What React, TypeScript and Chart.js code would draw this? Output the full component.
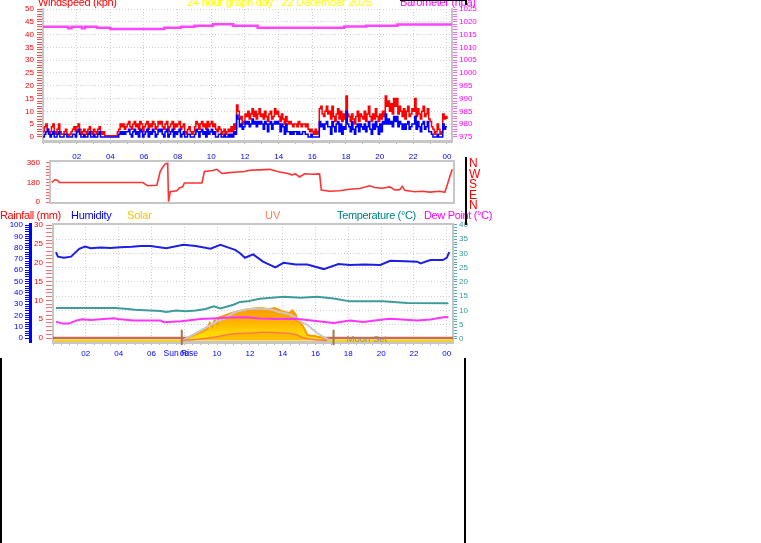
import React, { useEffect, useRef } from "react";
import { Chart, registerables } from "chart.js";

Chart.register(...registerables);

// ---------------- data ----------------
// wind speed, 5-minute samples from 00:00 to 24:00 (kph)
const windGust = [
  2, 4, 5, 3, 1, 2, 4, 5, 2, 1, 3, 5,
  2, 1, 1, 2, 3, 1, 0.5, 1, 2, 3, 4, 2,
  4, 5, 3, 1, 2, 3, 2, 1, 3, 4, 2, 1,
  3, 2, 1, 3, 4, 2, 1, 2, 0.5, 0.5, 0.5, 0.5,
  0.5, 0.5, 0.5, 0.5, 0.5, 2, 3, 5, 4, 5, 3, 4,
  5, 6, 4, 3, 5, 6, 4, 5, 3, 6, 5, 2,
  4, 5, 6, 3, 5, 4, 6, 5, 3, 4, 6, 5,
  6, 4, 3, 5, 6, 2, 4, 5, 6, 3, 5, 4,
  5, 6, 3, 4, 5, 2, 1, 3, 4, 2, 1, 2,
  4, 6, 5, 3, 5, 6, 4, 5, 3, 6, 4, 5,
  6, 4, 5, 3, 2, 4, 3, 1, 2, 3, 1, 2,
  3, 2, 4, 2, 5, 3, 12.5, 10, 7, 8, 5, 6,
  9, 8, 10, 7, 9, 11, 8, 10, 7, 9, 11, 8,
  9, 7, 10, 8, 6, 9, 10, 7, 8, 11, 9, 10,
  8, 6, 9, 7, 5, 8, 6, 5, 6, 5, 4, 5,
  5, 4, 6, 5, 4, 5, 5, 4, 5, 3, 2, 3,
  2, 1, 3, 1, 2, 11, 12, 9, 8, 10, 12, 9,
  10, 7, 12, 8, 6, 9, 11, 7, 10, 6, 9, 7,
  16, 9, 8, 6, 9, 7, 5, 8, 10, 6, 9, 8,
  7, 10, 6, 9, 12, 8, 6, 9, 7, 11, 8, 6,
  9, 7, 10, 8, 16, 12, 14, 10, 13, 9, 15, 12,
  15, 9, 12, 10, 8, 11, 7, 10, 12, 8, 9, 11,
  10, 15, 8, 11, 9, 7, 10, 12, 8, 9, 11, 7,
  6, 4, 3, 1, 2, 5, 3, 1, 2, 9, 7, 8,
  7,
];
const windAvg = [
  0, 1, 2, 3, 1, 0, 1, 2, 0, 0, 1, 2,
  0, 0, 0, 1, 1, 0, 0, 0, 0, 1, 1, 0,
  2, 3, 1, 0, 0, 1, 0, 0, 1, 2, 0, 0,
  1, 0, 0, 1, 2, 0, 0, 0, 0, 0, 0, 0,
  0, 0, 0, 0, 0, 0, 1, 2, 1, 2, 1, 2,
  2, 3, 1, 0, 2, 3, 1, 2, 0, 3, 2, 0,
  1, 2, 3, 0, 2, 1, 3, 2, 0, 1, 3, 2,
  3, 1, 0, 2, 3, 0, 1, 2, 3, 0, 2, 1,
  2, 3, 0, 1, 2, 0, 0, 1, 1, 0, 0, 0,
  1, 3, 2, 0, 2, 3, 1, 2, 0, 3, 1, 2,
  3, 1, 2, 0, 0, 1, 1, 0, 0, 1, 0, 0,
  1, 0, 1, 0, 2, 1, 8.5, 7, 4, 5, 3, 4,
  6, 5, 6, 4, 5, 7, 5, 6, 4, 6, 5, 6,
  5, 3, 6, 5, 2, 5, 6, 3, 5, 6, 5, 6,
  5, 2, 5, 4, 1, 5, 2, 2, 1, 2, 1, 2,
  2, 1, 2, 1, 1, 2, 2, 1, 1, 0, 0, 1,
  0, 0, 0, 0, 0, 6, 4, 5, 3, 5, 6, 4,
  4, 1, 6, 4, 2, 5, 6, 2, 5, 1, 4, 3,
  10, 5, 4, 2, 6, 3, 1, 4, 5, 2, 5, 4,
  3, 5, 2, 4, 6, 3, 1, 5, 3, 6, 4, 1,
  5, 2, 6, 5, 9, 5, 7, 5, 6, 4, 8, 6,
  8, 4, 6, 5, 3, 5, 3, 5, 6, 3, 4, 5,
  5, 8, 3, 6, 4, 2, 5, 6, 3, 4, 6, 2,
  2, 1, 0, 0, 0, 1, 0, 0, 0, 5, 3, 4,
  4,
];

const baroHours = [0, 1.5, 1.7, 2.3, 2.5, 3.2, 4.0, 7.2, 8.2, 9.0, 10.1, 11.3, 12.75, 17.9, 19.2, 21.05, 24.3];
const baroValues = [1018.1, 1017.5, 1018.1, 1017.5, 1018.1, 1017.7, 1017.2, 1017.7, 1018.1, 1018.5, 1019.0, 1018.5, 1017.7, 1018.2, 1018.5, 1018.9, 1018.9];

const dirHours = [0, 0.2, 0.35, 0.45, 2.5, 5.45, 5.75, 6.3, 6.5, 6.65, 6.8, 6.95, 7.0, 7.1, 7.5, 7.65, 7.85, 7.95, 9.0, 9.15, 9.65, 9.9, 10.2, 10.65, 11.1, 11.55, 11.85, 12.45, 13.05, 13.65, 14.1, 14.4, 14.6, 14.85, 15.15, 15.6, 16.05, 16.15, 16.65, 17.25, 17.85, 18.45, 19.05, 19.35, 19.8, 20.25, 20.55, 20.85, 21.0, 21.15, 21.75, 22.2, 22.65, 23.25, 23.55, 23.7, 23.9, 24.0];
const dirValues = [180, 205, 200, 180, 180, 180, 150, 155, 280, 320, 350, 355, 5, 95, 105, 130, 140, 175, 175, 280, 290, 300, 262, 270, 276, 280, 292, 295, 300, 275, 265, 250, 258, 230, 260, 255, 258, 110, 100, 105, 118, 125, 150, 135, 128, 140, 112, 115, 145, 108, 95, 100, 92, 100, 90, 160, 260, 300];

const humHours = [0.18, 0.3, 0.67, 1.1, 1.6, 1.95, 2.3, 2.9, 3.5, 4.1, 4.8, 5.35, 5.95, 6.9, 7.95, 8.7, 9.6, 10.2, 10.7, 11.1, 11.4, 11.7, 12.2, 12.8, 13.55, 14.05, 14.8, 15.5, 16.5, 17.4, 18.1, 19.0, 19.95, 20.55, 21.45, 22.2, 22.4, 23.0, 23.75, 24.0, 24.15];
const humValues = [76, 72, 71, 72, 79, 81, 79.5, 80, 79.6, 80.3, 80.8, 81.5, 81.5, 79.5, 82.5, 81.5, 79, 82.5, 80, 78, 75, 71, 74, 67.6, 62.5, 66.5, 65, 65, 61, 65.5, 64.6, 65, 64.6, 68.4, 68, 67.5, 66, 69, 69, 71, 76];

const tempHours = [0.18, 3.8, 4.4, 5.0, 6.55, 6.9, 7.5, 8.1, 8.7, 9.3, 9.8, 10.2, 11.0, 11.4, 11.85, 12.6, 14.05, 15.1, 16.1, 17.1, 18.1, 20.1, 21.6, 24.1];
const tempValues = [10.9, 10.9, 10.6, 10.3, 9.8, 9.5, 10, 9.7, 10, 10.5, 11.5, 10.7, 12, 13, 13.2, 14.1, 14.8, 14.5, 14.8, 14.2, 13.2, 13.2, 12.6, 12.5];

const dewHours = [0.18, 0.6, 0.95, 1.5, 1.8, 2.3, 3.7, 3.95, 4.9, 6.55, 6.75, 7.8, 9.0, 10.0, 10.8, 11.75, 12.65, 13.7, 14.8, 16.3, 17.1, 18.1, 18.9, 20.1, 20.55, 22.2, 23.0, 23.9, 24.1];
const dewValues = [6.1, 5.4, 5.4, 6.6, 6.9, 6.7, 7.3, 7.0, 6.5, 6.5, 5.9, 6.2, 7.0, 7.3, 7.5, 7.6, 7.2, 7.0, 7.1, 6.1, 5.6, 6.5, 6.0, 6.8, 7.1, 6.5, 6.8, 7.7, 7.6];

const solarHours = [0, 7.9, 8.5, 9.1, 9.4, 9.55, 9.7, 9.85, 10.0, 10.05, 10.4, 10.9, 11.5, 12.0, 12.6, 13.2, 13.5, 14.0, 14.4, 14.6, 14.8, 14.9, 15.1, 15.3, 15.5, 15.9, 16.4, 16.7, 24.4];
const solarValues = [0, 0, 50, 90, 115, 175, 135, 205, 165, 225, 245, 275, 300, 315, 325, 315, 325, 290, 275, 300, 255, 195, 175, 125, 55, 45, 30, 0, 0];

const solarMaxHours = [7.9, 8.5, 9.0, 9.5, 10.0, 10.5, 11.0, 11.5, 12.0, 12.65, 13.3, 13.7, 14.5, 15.25, 15.5, 16.1, 16.9];
const solarMaxValues = [0, 55, 100, 145, 190, 225, 275, 300, 315, 318, 310, 288, 255, 175, 155, 75, 0];

const uvHours = [7.9, 9.0, 10.0, 11.0, 12.0, 13.0, 14.0, 14.8, 15.2, 16.0, 16.7];
const uvValues = [0, 0.2, 0.5, 0.9, 1.0, 1.1, 1.0, 0.8, 0.4, 0.1, 0];

const rainHours = [0, 24.4];
const rainValues = [0, 0];

const sunRiseHour = 7.85;
const moonSetHour = 17.1;

const compassLetters = ["N", "W", "S", "E", "N"];

// ---------------- helpers ----------------
const FONT = '"Liberation Sans", Arial, Helvetica, sans-serif';
const GRID = "#CFCFCF";
const FRAME = "#C6C6C6";
const CLEAR = "rgba(0,0,0,0)";
const tickFont = { family: FONT, size: 8 };

const pts = (xs: number[], ys: number[]) => xs.map((x, i) => ({ x, y: ys[i] }));
const range = (a: number, b: number, s: number) => {
  const r: number[] = [];
  for (let i = 0; a + i * s <= b + 1e-9; i++) r.push(+(a + i * s).toFixed(3));
  return r;
};
const isMult = (v: number, m: number) => Math.abs(v / m - Math.round(v / m)) < 1e-6;
const hourLabel = (v: number) => (v > 0 && isMult(v, 2) ? String(Math.round(v) % 24).padStart(2, "0") : "");

function hourAxis(min: number, max: number, step: number, height: number, padding: number, showLabels = true, showGrid = true) {
  return {
    type: "linear",
    position: "bottom",
    min,
    max,
    afterBuildTicks: (s: any) => {
      s.ticks = range(0, 24, step).map((value) => ({ value }));
    },
    afterFit: (s: any) => {
      s.height = height;
    },
    ticks: {
      display: showLabels,
      autoSkip: false,
      maxRotation: 0,
      minRotation: 0,
      color: "#0000FF",
      font: tickFont,
      padding,
      callback: (v: any) => hourLabel(Number(v)),
    },
    grid: {
      display: showGrid,
      drawTicks: showGrid,
      color: (c: any) => (c.tick && c.tick.value > 0 && isMult(c.tick.value, 2) ? GRID : CLEAR),
      tickColor: "#B4B4B4",
      tickLength: 3,
      lineWidth: 1,
    },
    border: { color: FRAME, width: 3, dash: [1, 2] },
  };
}

function valueAxis(o: any) {
  return {
    type: "linear",
    position: o.position,
    weight: o.weight || 0,
    min: o.min,
    max: o.max,
    afterBuildTicks: (s: any) => {
      s.ticks = o.ticks.map((value: number) => ({ value }));
    },
    afterFit: (s: any) => {
      s.width = o.width;
    },
    ticks: {
      autoSkip: false,
      color: o.color,
      font: tickFont,
      padding: o.padding,
      callback: (v: any) => (isMult(Number(v), o.major) ? String(v) : ""),
    },
    grid: {
      drawOnChartArea: !!o.grid,
      color: (c: any) => (o.grid && c.tick && isMult(c.tick.value, o.major) && c.tick.value > o.ticks[0] ? GRID : CLEAR),
      tickColor: o.tickColor,
      tickLength: o.tickLength,
      lineWidth: 1,
    },
    border: { color: o.borderColor, width: o.borderWidth, dash: [1, 2] },
  };
}

function frameAxis(position: string, size: number) {
  return {
    type: "linear",
    position,
    min: 0,
    max: 1,
    afterFit: (s: any) => {
      if (position === "top" || position === "bottom") s.height = size;
      else s.width = size;
    },
    ticks: { display: false },
    grid: { display: false, drawTicks: false },
    border: { color: FRAME, width: 2 },
  };
}

const baseOptions = {
  animation: false,
  responsive: false,
  events: [],
  plugins: { legend: { display: false }, tooltip: { enabled: false } },
};

function topConfig(): any {
  const windHours = windGust.map((_, i) => i / 12);
  return {
    type: "line",
    data: {
      datasets: [
        { data: pts(windHours, windAvg), yAxisID: "yWind", borderColor: "#0000FF", borderWidth: 1.5, pointRadius: 0, stepped: true },
        { data: pts(windHours, windGust), yAxisID: "yWind", borderColor: "#FF0000", borderWidth: 1.5, pointRadius: 0, stepped: true },
        { data: pts(baroHours, baroValues), yAxisID: "yBaro", borderColor: "#FF44FF", borderWidth: 2.5, pointRadius: 0, stepped: true },
      ],
    },
    options: {
      ...baseOptions,
      layout: { padding: { top: 9, left: 0, right: 0, bottom: 0 } },
      scales: {
        x: hourAxis(0, 24.3, 1, 19, 8),
        yWind: valueAxis({
          position: "left", min: -1.6, max: 50, ticks: range(0, 50, 1), major: 5,
          color: "#FF0000", tickColor: "#FF5050", width: 43, tickLength: 6, padding: 3,
          grid: true, borderColor: FRAME, borderWidth: 2,
        }),
        yBaro: valueAxis({
          position: "right", min: 973.4, max: 1025, ticks: range(975, 1025, 1), major: 5,
          color: "#FF00FF", tickColor: "#FF66FF", width: 28, tickLength: 5, padding: 2,
          grid: false, borderColor: FRAME, borderWidth: 2,
        }),
      },
    },
  };
}

function midConfig(): any {
  return {
    type: "line",
    data: {
      datasets: [
        { data: pts(dirHours, dirValues), yAxisID: "y", borderColor: "#FF3333", borderWidth: 1.6, pointRadius: 0 },
      ],
    },
    options: {
      ...baseOptions,
      layout: { padding: 0 },
      scales: {
        x: { ...hourAxis(-0.1, 24.1, 1, 5, 0, false, false), border: { color: FRAME, width: 2 } },
        x2: frameAxis("top", 0),
        y: valueAxis({
          position: "left", min: -9, max: 378, ticks: range(0, 360, 30), major: 180,
          color: "#FF0000", tickColor: "#FF6060", width: 50, tickLength: 4, padding: 6,
          grid: false, borderColor: FRAME, borderWidth: 2,
        }),
        y2: frameAxis("right", 26),
      },
    },
  };
}

const eventLabels = {
  id: "eventLabels",
  afterDatasetsDraw(chart: any) {
    const { ctx, scales, chartArea } = chart;
    const x = scales.x;
    ctx.save();
    ctx.font = `8.5px ${FONT}`;
    ctx.fillStyle = "#0000FF";
    ctx.textAlign = "center";
    ctx.textBaseline = "middle";
    ctx.fillText("Sun Rise", x.getPixelForValue(sunRiseHour) - 1, x.top + 12);
    ctx.font = `9.5px ${FONT}`;
    ctx.fillStyle = "#9C8C7C";
    ctx.textAlign = "left";
    ctx.fillText("Moon Set", x.getPixelForValue(moonSetHour) + 13, chartArea.bottom - 3);
    ctx.restore();
  },
};

function botConfig(): any {
  const solarFill = (c: any) => {
    const chart = c.chart;
    if (!chart.chartArea) return "#FFB000";
    const ys = chart.scales.ySolar;
    const g = chart.ctx.createLinearGradient(0, ys.getPixelForValue(330), 0, ys.getPixelForValue(0));
    g.addColorStop(0, "#FF9800");
    g.addColorStop(0.45, "#FFB400");
    g.addColorStop(0.75, "#FFD400");
    g.addColorStop(1, "#FFE600");
    return g;
  };
  return {
    type: "line",
    data: {
      datasets: [
        { data: pts(humHours, humValues), yAxisID: "yHum", borderColor: "#1E1EE6", borderWidth: 2, pointRadius: 0 },
        { data: pts(tempHours, tempValues), yAxisID: "yTemp", borderColor: "#3C9C9C", borderWidth: 2, pointRadius: 0 },
        { data: pts(dewHours, dewValues), yAxisID: "yTemp", borderColor: "#FF33FF", borderWidth: 2, pointRadius: 0 },
        { data: pts([sunRiseHour, sunRiseHour], [-1.9, 2.2]), yAxisID: "yRain", borderColor: "#A0784C", borderWidth: 2, pointRadius: 0, clip: false },
        { data: pts([moonSetHour, moonSetHour], [-1.9, 2.2]), yAxisID: "yRain", borderColor: "#A0784C", borderWidth: 2, pointRadius: 0, clip: false },
        { data: pts(uvHours, uvValues), yAxisID: "yUV", borderColor: "#FF7A50", borderWidth: 1.5, pointRadius: 0, fill: "origin", backgroundColor: "rgba(255,130,0,0.35)", tension: 0.3 },
        { data: pts(solarMaxHours, solarMaxValues), yAxisID: "ySolar", borderColor: "#C8C8C8", borderWidth: 2, pointRadius: 0, tension: 0.4 },
        {
          data: pts(solarHours, solarValues), yAxisID: "ySolar", borderWidth: 2, pointRadius: 0, fill: "origin",
          backgroundColor: solarFill,
          segment: { borderColor: (s: any) => (s.p0.parsed.y === 0 && s.p1.parsed.y === 0 ? "#FFD700" : "#FF9A00") },
        },
        { data: pts(rainHours, rainValues), yAxisID: "yRain", borderColor: "#C86A5A", borderWidth: 2.5, pointRadius: 0 },
      ],
    },
    options: {
      ...baseOptions,
      layout: { padding: { top: 12, left: 0, right: 0, bottom: 0 } },
      scales: {
        x: hourAxis(0, 24.38, 0.5, 22, 4),
        x2: frameAxis("top", 0),
        yHum: valueAxis({
          position: "left", weight: 1, min: -3.54, max: 100.9, ticks: range(0, 100, 2), major: 10,
          color: "#0000FF", tickColor: "#0000FF", width: 30, tickLength: 5, padding: 2,
          grid: false, borderColor: "#0000FF", borderWidth: 3,
        }),
        yRain: valueAxis({
          position: "left", weight: 0, min: -1.06, max: 30.27, ticks: range(0, 30, 1), major: 5,
          color: "#FF0000", tickColor: "#FF7070", width: 23, tickLength: 7, padding: 3,
          grid: false, borderColor: FRAME, borderWidth: 2,
        }),
        yTemp: valueAxis({
          position: "right", min: -1.06, max: 40.35, ticks: range(0, 40, 1), major: 5,
          color: "#339999", tickColor: "#55AAAA", width: 27, tickLength: 4, padding: 2,
          grid: true, borderColor: FRAME, borderWidth: 2,
        }),
        ySolar: { type: "linear", display: false, min: -15, max: 1165 },
        yUV: { type: "linear", display: false, min: -0.2, max: 15.5 },
      },
    },
    plugins: [eventLabels],
  };
}

function Txt(p: { x: number; y: number; color: string; size?: number; ls?: number; children: React.ReactNode }) {
  const size = p.size || 11;
  return (
    <div
      style={{
        position: "absolute",
        left: p.x,
        top: p.y,
        color: p.color,
        fontSize: size,
        lineHeight: `${size}px`,
        letterSpacing: p.ls || 0,
        whiteSpace: "nowrap",
        fontFamily: FONT,
      }}
    >
      {p.children}
    </div>
  );
}

function Bar(p: { x: number; y: number; w: number; h: number }) {
  return <div style={{ position: "absolute", left: p.x, top: p.y, width: p.w, height: p.h, background: "#000" }} />;
}

export default function App() {
  const topRef = useRef<HTMLCanvasElement>(null);
  const midRef = useRef<HTMLCanvasElement>(null);
  const botRef = useRef<HTMLCanvasElement>(null);

  useEffect(() => {
    const charts = [
      new Chart(topRef.current as HTMLCanvasElement, topConfig()),
      new Chart(midRef.current as HTMLCanvasElement, midConfig()),
      new Chart(botRef.current as HTMLCanvasElement, botConfig()),
    ];
    return () => charts.forEach((c) => c.destroy());
  }, []);

  return (
    <div style={{ position: "fixed", left: 0, top: 0, width: 761, height: 543, background: "#FFFFFF", overflow: "hidden" }}>
      <canvas ref={topRef} width={480} height={160} style={{ position: "absolute", left: 0, top: 0 }} />
      <canvas ref={midRef} width={480} height={64} style={{ position: "absolute", left: 0, top: 150 }} />
      <canvas ref={botRef} width={480} height={152} style={{ position: "absolute", left: 0, top: 212 }} />

      <Txt x={38} y={-3} color="#FF0000" ls={-0.3}>Windspeed (kph)</Txt>
      <Txt x={187} y={-3} color="#FFFF00" ls={-0.2}>24 hour graph day : 22 December 2025</Txt>
      <Txt x={400} y={-3} color="#FF00FF" ls={-0.3}>Barometer (hpa)</Txt>

      <Txt x={0} y={210} color="#FF0000" ls={-0.35}>Rainfall (mm)</Txt>
      <Txt x={71} y={210} color="#0000FF" ls={-0.3}>Humidity</Txt>
      <Txt x={127} y={210} color="#FFC000" ls={-0.2}>Solar</Txt>
      <Txt x={265} y={210} color="#FF7F50">UV</Txt>
      <Txt x={337} y={210} color="#008080" ls={-0.35}>Temperature (°C)</Txt>
      <Txt x={424} y={210} color="#FF00FF" ls={-0.35}>Dew Point (°C)</Txt>

      {compassLetters.map((l, i) => (
        <Txt key={i} x={469} y={157 + i * 10.5} color="#FF0000" size={12}>
          {l}
        </Txt>
      ))}

      <Bar x={400} y={0} w={67} h={1} />
      <Bar x={465} y={0} w={2} h={5} />
      <Bar x={465} y={157} w={2} h={68} />
      <Bar x={0} y={358} w={2} h={185} />
      <Bar x={464} y={358} w={2} h={185} />
    </div>
  );
}
